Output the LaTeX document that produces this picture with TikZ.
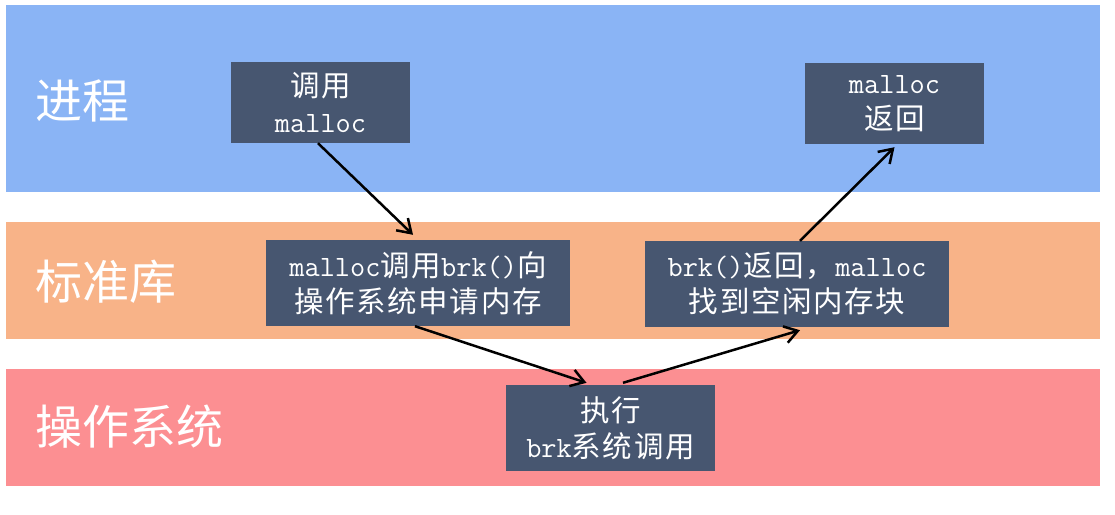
\documentclass[tikz,border=0pt]{standalone}
\usepackage{fontspec}
\usetikzlibrary{arrows.meta,calc}
\newfontfamily\cjk[LetterSpace=5.5]{Noto Sans CJK SC}
\newfontfamily\cjkbig{Noto Sans CJK SC}
\definecolor{bandblue}{RGB}{138,180,245}
\definecolor{bandorange}{RGB}{248,179,136}
\definecolor{bandred}{RGB}{252,143,146}
\definecolor{boxfill}{RGB}{71,86,112}
\newcommand\zh[1]{{\cjk #1}}
\tikzset{
  band/.style={draw=none},
  lbl/.style={anchor=west, inner sep=0pt, text=white, font=\cjkbig\fontsize{47}{47}\selectfont},
  stepbox/.style={fill=boxfill, draw=none, text=white, align=center, inner sep=0pt,
    font=\ttfamily\fontsize{29.5}{36}\selectfont},
  arr/.style={line width=2.5pt, -{Straight Barb[length=13pt,width=17pt,line width=2.5pt]}}
}
\begin{document}
\begin{tikzpicture}[x=1pt,y=-1pt]
\useasboundingbox (0,0) rectangle (1115,514);
% layer bands
\fill[bandblue]   (6,5)   rectangle (1100,192);
\fill[bandorange] (6,222) rectangle (1100,339);
\fill[bandred]    (6,369) rectangle (1100,486);
% layer names
\node[lbl] (lp) at (35,101) {进程};
\node[lbl] (ll) at (35,282) {标准库};
\node[lbl] (lo) at (35,427) {操作系统};
% steps
\node[stepbox, minimum width=179pt, minimum height=81pt] (b1) at (320.5,102.5) {\zh{调用}\\malloc};
\node[stepbox, minimum width=304pt, minimum height=86pt] (b2) at (418,283) {malloc\zh{调用}brk()\zh{向}\\\zh{操作系统申请内存}};
\node[stepbox, minimum width=179pt, minimum height=81pt] (b3) at (894.5,103.5) {malloc\\\zh{返回}};
\node[stepbox, minimum width=304pt, minimum height=86pt] (b4) at (797,284) {brk()\zh{返回，}malloc\\\zh{找到空闲内存块}};
\node[stepbox, minimum width=209pt, minimum height=86pt] (b5) at (610.5,428) {\zh{执行}\\brk\zh{系统调用}};
% flow
\draw[arr] ($(b1.south)+(-2.5,0)$) -- ($(b2.north)+(-5,-5)$);
\draw[arr] ($(b2.south)+(-3,0)$) -- ($(b5.north)+(-24,-2)$);
\draw[arr] ($(b5.north)+(12.5,-2)$) -- ($(b4.south)+(3,3)$);
\draw[arr] ($(b4.north)+(3,0)$) -- ($(b3.south)+(0,3)$);
\end{tikzpicture}
\end{document}
